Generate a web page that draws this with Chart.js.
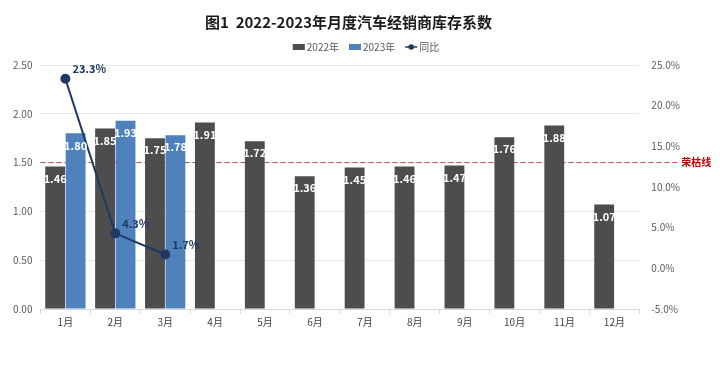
<!DOCTYPE html>
<html>
<head>
<meta charset="utf-8">
<script src="https://cdn.jsdelivr.net/npm/chart.js@4/dist/chart.umd.min.js"></script>
<style>
html,body{margin:0;padding:0;background:#fff;}
#wrap{width:720px;height:366px;position:relative;}
</style>
</head>
<body>
<div id="wrap"><canvas id="c" width="720" height="366"></canvas></div>
<script>
const categories = ['1月','2月','3月','4月','5月','6月','7月','8月','9月','10月','11月','12月'];
const series2022 = [1.46,1.85,1.75,1.91,1.72,1.36,1.45,1.46,1.47,1.76,1.88,1.07];
const series2023 = [1.80,1.93,1.78,null,null,null,null,null,null,null,null,null];
const yoyPct = [23.3,4.3,1.7,null,null,null,null,null,null,null,null,null];
const leftTicks = [0,0.5,1,1.5,2,2.5];
const rightTicks = [-5,0,5,10,15,20,25];
const thresholdValue = 1.5;
const thresholdLabel = '荣枯线';
const titleText = '图1  2022-2023年月度汽车经销商库存系数';
const legendNames = ['2022年','2023年','同比'];

const FONT = '"Noto Sans CJK SC","Noto Sans",sans-serif';
const C2022 = '#4d4d4d', C2023 = '#4f81bd', CLINE = '#1f3864';

const thresholdPlugin = {
  id:'threshold',
  beforeDatasetsDraw(chart){
    const {ctx, chartArea, scales} = chart;
    const y = scales.y.getPixelForValue(thresholdValue);
    ctx.save();
    ctx.strokeStyle = '#b94a48';
    ctx.lineWidth = 1;
    ctx.setLineDash([5,3]);
    ctx.beginPath();
    ctx.moveTo(chartArea.left, y);
    ctx.lineTo(chartArea.right + 38, y);
    ctx.stroke();
    ctx.restore();
  },
  afterDraw(chart){
    const {ctx, chartArea, scales} = chart;
    const y = scales.y.getPixelForValue(thresholdValue);
    ctx.save();
    ctx.fillStyle = '#c00000';
    ctx.font = 'bold 10px ' + FONT;
    ctx.textAlign = 'left';
    ctx.textBaseline = 'middle';
    ctx.fillText(thresholdLabel, chartArea.right + 42, y);
    ctx.restore();
  }
};

const labelPlugin = {
  id:'vlabels',
  afterDatasetsDraw(chart){
    const ctx = chart.ctx;
    ctx.save();
    chart.data.datasets.forEach((ds, di) => {
      const meta = chart.getDatasetMeta(di);
      meta.data.forEach((el, i) => {
        const v = ds.data[i];
        if (v === null || v === undefined) return;
        if (ds.type === 'line') {
          ctx.fillStyle = CLINE;
          ctx.font = 'bold 11px ' + FONT;
          ctx.textAlign = 'left';
          ctx.textBaseline = 'middle';
          ctx.fillText(v.toFixed(1) + '%', el.x + 7, el.y - 10);
        } else {
          ctx.fillStyle = '#ffffff';
          ctx.font = 'bold 11px ' + FONT;
          ctx.textAlign = 'center';
          ctx.textBaseline = 'middle';
          ctx.fillText(v.toFixed(2), el.x, el.y + 12);
        }
      });
    });
    ctx.restore();
  }
};

const legendPlugin = {
  id:'customLegend',
  afterDraw(chart){
    const ctx = chart.ctx;
    ctx.save();
    ctx.font = '10px ' + FONT;
    ctx.textBaseline = 'middle';
    const y = 47;
    const items = [
      {name: legendNames[0], kind:'box', color:C2022},
      {name: legendNames[1], kind:'box', color:C2023},
      {name: legendNames[2], kind:'line', color:CLINE}
    ];
    const symW = 12, gap = 2, itemGap = 10;
    let total = 0;
    items.forEach(it => { it.w = symW + gap + ctx.measureText(it.name).width; total += it.w; });
    total += itemGap * (items.length - 1);
    let x = 366 - total / 2;
    items.forEach(it => {
      if (it.kind === 'box') {
        ctx.fillStyle = it.color;
        ctx.fillRect(x, y - 3, symW, 6);
      } else {
        ctx.strokeStyle = it.color;
        ctx.lineWidth = 1.5;
        ctx.beginPath(); ctx.moveTo(x, y); ctx.lineTo(x + symW, y); ctx.stroke();
        ctx.fillStyle = it.color;
        ctx.beginPath(); ctx.arc(x + symW / 2, y, 2.8, 0, Math.PI * 2); ctx.fill();
      }
      ctx.fillStyle = '#595959';
      ctx.fillText(it.name, x + symW + gap, y);
      x += it.w + itemGap;
    });
    ctx.restore();
  }
};

new Chart(document.getElementById('c'), {
  type: 'bar',
  data: {
    labels: categories,
    datasets: [
      {type:'line', label:legendNames[2], data:yoyPct, yAxisID:'y1', order:0,
       borderColor:CLINE, backgroundColor:CLINE, borderWidth:2,
       pointRadius:4, pointBackgroundColor:CLINE, pointBorderColor:CLINE, tension:0},
      {label:legendNames[0], data:series2022, yAxisID:'y', order:1,
       backgroundColor:C2022, categoryPercentage:0.82, barPercentage:0.97},
      {label:legendNames[1], data:series2023, yAxisID:'y', order:2,
       backgroundColor:C2023, categoryPercentage:0.82, barPercentage:0.97}
    ]
  },
  options: {
    responsive:false,
    animation:false,
    layout:{padding:{left:5, right:28, top:0, bottom:36}},
    plugins:{
      legend:{display:false},
      tooltip:{enabled:false},
      title:{display:true, text:titleText, color:'#1a1a1a',
        font:{family:FONT, size:15, weight:'bold'}, padding:{top:13, bottom:34}}
    },
    scales:{
      x:{
        grid:{display:true, drawOnChartArea:false, drawTicks:true, tickLength:5, color:'#d9d9d9', offset:true},
        border:{display:true, color:'#d9d9d9'},
        ticks:{color:'#404040', font:{family:FONT, size:10}, padding:2}
      },
      y:{
        position:'left', min:0, max:2.5,
        afterBuildTicks(s){ s.ticks = leftTicks.map(v => ({value:v})); },
        grid:{color:'#e6e6e6', drawTicks:false},
        border:{display:false},
        ticks:{color:'#595959', font:{family:FONT, size:10}, padding:8, callback:v => Number(v).toFixed(2)}
      },
      y1:{
        position:'right', min:-5, max:25,
        afterBuildTicks(s){ s.ticks = rightTicks.map(v => ({value:v})); },
        grid:{display:false, drawTicks:false},
        border:{display:false},
        ticks:{color:'#595959', font:{family:FONT, size:10}, padding:12, callback:v => Number(v).toFixed(1) + '%'}
      }
    }
  },
  plugins:[thresholdPlugin, labelPlugin, legendPlugin]
});
</script>
</body>
</html>
